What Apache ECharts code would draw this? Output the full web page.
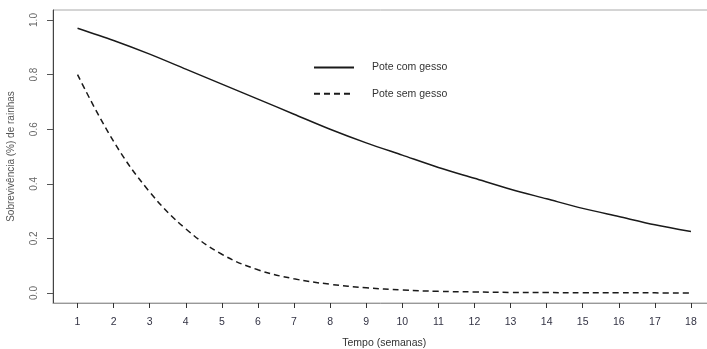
<!DOCTYPE html>
<html><head><meta charset="utf-8">
<script src="https://cdn.jsdelivr.net/npm/echarts@6/dist/echarts.min.js"></script>
<style>html,body{margin:0;padding:0;background:#fff}#c{width:707px;height:349px}</style>
</head><body><div id="c"></div>
<script>
var weeks = [1,2,3,4,5,6,7,8,9,10,11,12,13,14,15,16,17,18];
var comGesso = [0.97,0.925,0.875,0.82,0.765,0.71,0.655,0.60,0.55,0.505,0.46,0.42,0.38,0.345,0.31,0.28,0.25,0.225];
var semGesso = [0.80,0.555,0.37,0.235,0.142,0.085,0.052,0.032,0.019,0.011,0.006,0.004,0.002,0.0015,0.001,0.0007,0.0005,0.0003];
var yTicks = [0,0.2,0.4,0.6,0.8,1.0];
var seriesNames = ['Pote com gesso','Pote sem gesso'];
var xTitle = 'Tempo (semanas)';
var yTitle = 'Sobrevivência (%) de rainhas';

function pairs(ys){ return weeks.map(function(w,i){ return [w, ys[i]]; }); }

var chart = echarts.init(document.getElementById('c'), null, {renderer:'canvas'});
chart.setOption({
  animation:false,
  backgroundColor:'#fff',
  grid:{left:53, top:10, width:662.5, height:293, show:true, borderColor:'#aaa', borderWidth:1,
    containLabel:false, outerBoundsMode:'none'},
  legend:{
    orient:'vertical', left:308, top:57, itemGap:15, itemWidth:40, itemHeight:14,
    data:seriesNames,
    itemStyle:{color:'rgba(0,0,0,0)', borderWidth:0, opacity:0},
    textStyle:{fontFamily:'Liberation Sans', fontSize:10.5, color:'#333', padding:[0,0,0,13]}
  },
  xAxis:{
    type:'value', min:0.32, max:18.68,
    name:xTitle, nameLocation:'middle', nameGap:35,
    nameTextStyle:{fontFamily:'Liberation Sans', fontSize:10.5, color:'#333'},
    axisLine:{show:true, onZero:false, lineStyle:{color:'#999', width:1}},
    axisTick:{show:true, length:5, customValues:weeks, lineStyle:{color:'#333'}},
    axisLabel:{customValues:weeks, margin:14, fontFamily:'Liberation Sans', fontSize:10.5, color:'#334'},
    splitLine:{show:false}
  },
  yAxis:{
    type:'value', min:-0.0366, max:1.0366,
    name:yTitle, nameLocation:'middle', nameGap:37, nameRotate:90,
    nameTextStyle:{fontFamily:'Liberation Sans', fontSize:10, color:'#555'},
    axisLine:{show:true, onZero:false, lineStyle:{color:'#444', width:1}},
    axisTick:{show:true, length:6, customValues:yTicks, lineStyle:{color:'#555'}},
    axisLabel:{customValues:yTicks, rotate:90, margin:14, fontFamily:'Liberation Sans', fontSize:10, color:'#666',
      formatter:function(v){return v.toFixed(1);}},
    splitLine:{show:false}
  },
  series:[
    {name:seriesNames[0], type:'line', data:pairs(comGesso), symbol:'none', smooth:0.3,
      lineStyle:{color:'#1a1a1a', width:1.5, type:'solid'}, itemStyle:{color:'#1a1a1a'}},
    {name:seriesNames[1], type:'line', data:pairs(semGesso), symbol:'none', smooth:0.4,
      lineStyle:{color:'#1a1a1a', width:1.5, type:[6,4]}, itemStyle:{color:'#1a1a1a'}}
  ]
});
</script></body></html>
